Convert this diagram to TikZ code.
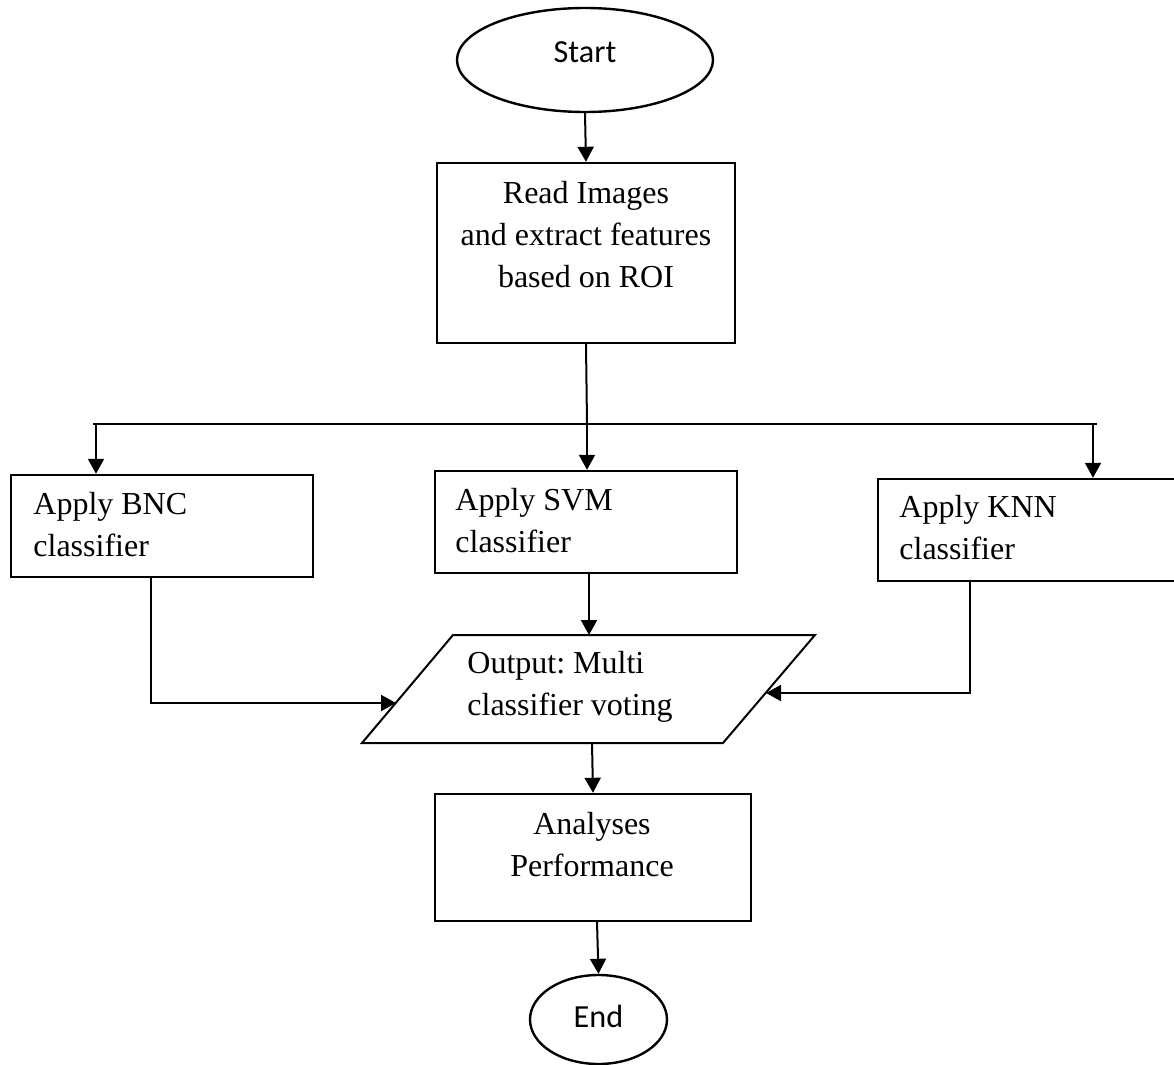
\documentclass[tikz,border=0pt]{standalone}
\usepackage{fontspec}
\setmainfont{Liberation Serif}
\newfontfamily\calibri{Carlito}
\usetikzlibrary{arrows.meta,shapes.geometric}
\frenchspacing

\begin{document}
\begin{tikzpicture}[x=0.5pt,y=-0.5pt,
  boxline/.style={draw,line width=1.2pt},
  procbox/.style={boxline,rectangle,inner sep=0pt},
  termnode/.style={boxline,ellipse,inner sep=0pt},
  serif/.style={inner sep=0pt,font=\fontsize{16}{21}\selectfont},
  sans/.style={inner sep=0pt,font=\calibri\fontsize{16.1}{19}\selectfont},
  conn/.style={line width=1pt},
  arr/.style={conn,-{Triangle[length=7.5pt,width=8pt]}}
]
\useasboundingbox (0,0) rectangle (1174,1065);

% terminals
\node[termnode,minimum width=128pt,minimum height=52pt] (start) at (585,60) {};
\node[sans] (starttxt) at (585,52) {Start};
\node[termnode,minimum width=68.5pt,minimum height=44.5pt] (finish) at (598.5,1019.5) {};
\node[sans] (finishtxt) at (598.5,1016) {End};

% process boxes
\node[procbox,minimum width=149pt,minimum height=90pt] (read) at (586,253) {};
\node[serif,align=center] (readtxt) at (586,234.5) {Read Images\\and extract features\\based on ROI};

\node[procbox,minimum width=151pt,minimum height=51pt] (bnc) at (162,526) {};
\node[serif,align=left,anchor=west] (bnctxt) at (33,525) {Apply BNC\\classifier};

\node[procbox,minimum width=151pt,minimum height=51pt] (svm) at (586,522) {};
\node[serif,align=left,anchor=west] (svmtxt) at (455,520.5) {Apply SVM\\classifier};

\node[procbox,minimum width=151pt,minimum height=51pt] (knn) at (1029,530) {};
\node[serif,align=left,anchor=west] (knntxt) at (899,528) {Apply KNN\\classifier};

\node[procbox,minimum width=158pt,minimum height=63.5pt] (anal) at (593,857.5) {};
\node[serif,align=center] (analtxt) at (592,844.5) {Analyses\\Performance};

% output parallelogram
\draw[line width=1pt] (453,635) -- (815,635) -- (723,743) -- (362,743) -- cycle;
\node[serif,align=left,anchor=west] (outtxt) at (467,687) {Output: Multi\\classifier voting};
\coordinate (outT) at (589,635);
\coordinate (outL) at (396,703);
\coordinate (outR) at (766,693);
\coordinate (outB) at (592,743);

% distribution bus
\coordinate (split) at (587,424);
\coordinate (busL) at (93,424);
\coordinate (busR) at (1097,424);
\coordinate (tapB) at (96,424);
\coordinate (tapK) at (1093,424);

% connectors
\draw[arr] (start.south) -- (read.north);
\draw[conn] (read.south) -- (split);
\draw[conn] (busL) -- (busR);
\draw[arr] (tapB) -- (tapB |- bnc.north);
\draw[arr] (split) -- (split |- svm.north);
\draw[arr] (tapK) -- (tapK |- knn.north);
\draw[arr] (svm.south -| outT) -- (outT);
\draw[arr] ([xshift=-5.5pt]bnc.south) |- (outL);
\draw[arr] ([xshift=-29.5pt]knn.south) |- (outR);
\draw[arr] (outB) -- (anal.north);
\draw[arr] ([xshift=2pt]anal.south) -- (finish.north);
\end{tikzpicture}
\end{document}
